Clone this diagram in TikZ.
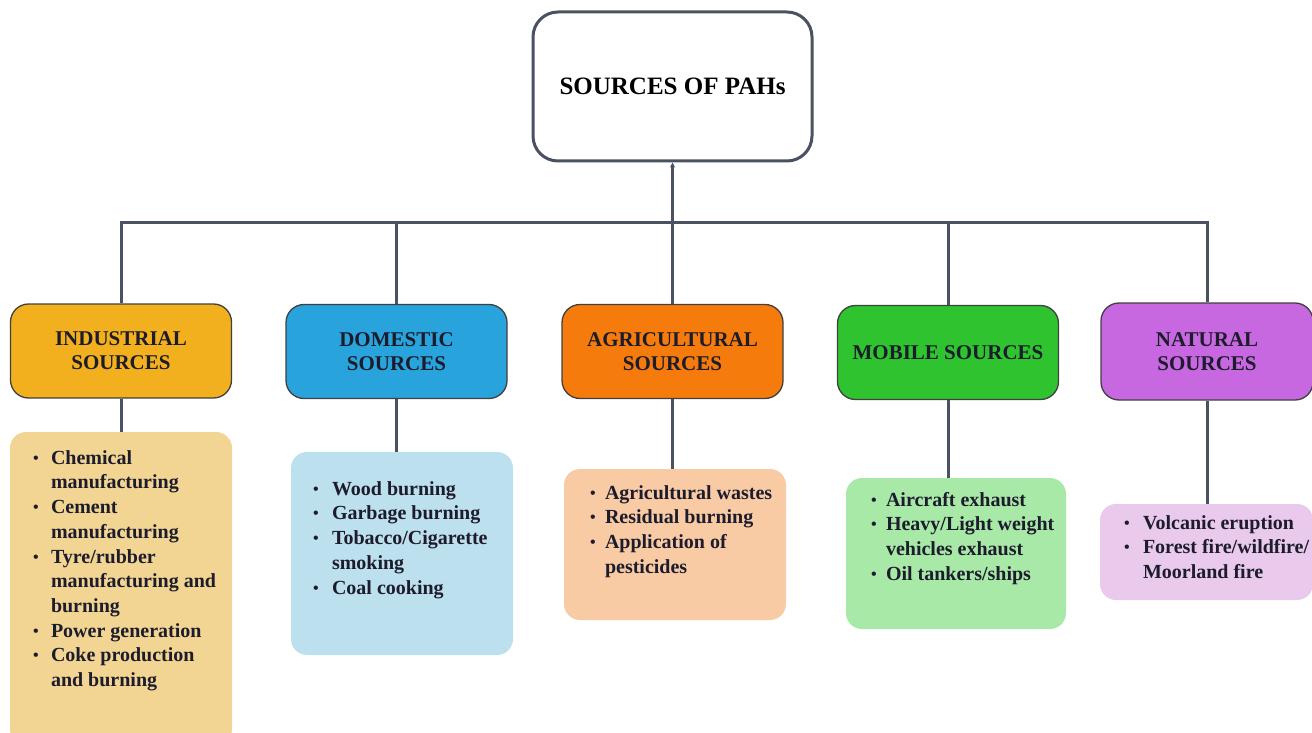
\documentclass[tikz,border=0pt]{standalone}
\usepackage{fontspec}
\setmainfont{Liberation Serif}[BoldFont={Liberation Serif Bold}]
\usepackage{tikz}
\usetikzlibrary{arrows.meta, positioning}
\definecolor{linegray}{HTML}{4A5160}
\definecolor{txtdark}{HTML}{1C1C2C}
\definecolor{indcol}{HTML}{F2B01E}
\definecolor{indlight}{HTML}{F3D593}
\definecolor{domcol}{HTML}{29A3DC}
\definecolor{domlight}{HTML}{BDE0EE}
\definecolor{agrcol}{HTML}{F57B0C}
\definecolor{agrlight}{HTML}{F9CBA5}
\definecolor{mobcol}{HTML}{2FC42F}
\definecolor{moblight}{HTML}{A8E9A8}
\definecolor{natcol}{HTML}{C868E0}
\definecolor{natlight}{HTML}{E9C9EC}

\newcommand{\bul}{\raisebox{1pt}{\fontsize{16}{16}\selectfont\textbullet}}

\begin{document}
\begin{tikzpicture}[x=1pt, y=-1pt,
    link/.style={draw=linegray, line width=3pt},
    rootbox/.style={draw=linegray, line width=3pt, fill=white, rounded corners=25pt,
        minimum width=279pt, minimum height=149pt, text=black,
        font=\fontsize{25}{29}\selectfont\bfseries},
    cat/.style={draw=black!75, line width=1.3pt, rounded corners=18pt,
        minimum width=221pt, minimum height=94pt, align=center, text=txtdark,
        font=\fontsize{21}{24}\selectfont\bfseries},
    lst/.style={rounded corners=16pt, minimum width=222pt, inner sep=0pt},
    lsttxt/.style={anchor=north west, inner sep=0pt, align=left, text=txtdark,
        font=\fontsize{20}{24.7}\selectfont\bfseries}
]
  \useasboundingbox (0,0) rectangle (1312,733);
  \clip (0,0) rectangle (1312,733);

  % Wurzel
  \node[rootbox] (root) at (672.5,86.5) {SOURCES OF PAHs};
  \coordinate (bus) at (672.5,222);

  % Kategorien
  \node[cat, fill=indcol] (ind) at (121,351) {INDUSTRIAL\\SOURCES};
  \node[cat, fill=domcol] (dom) at (396.5,351.5) {DOMESTIC\\SOURCES};
  \node[cat, fill=agrcol] (agr) at (672.5,351.5) {AGRICULTURAL\\SOURCES};
  \node[cat, fill=mobcol] (mob) at (948,352.5) {MOBILE SOURCES};
  \node[cat, fill=natcol, minimum width=212pt, minimum height=97pt] (nat) at (1207,351.5) {NATURAL\\SOURCES};

  % Listen
  \node[lst, fill=indlight, minimum height=313pt] (ind-list) at (121,588.5) {};
  \node[lst, fill=domlight, minimum height=203pt] (dom-list) at (402,553.5) {};
  \node[lst, fill=agrlight, minimum height=151pt] (agr-list) at (675,544.5) {};
  \node[lst, fill=moblight, minimum height=151pt, minimum width=220pt] (mob-list) at (956,553.5) {};
  \node[lst, fill=natlight, minimum height=96pt, minimum width=213pt] (nat-list) at (1206.5,552) {};

  \node[lsttxt] (ind-txt) at ([shift={(23,15)}]ind-list.north west) {%
    \begin{tabular}{@{}p{18pt}@{}l@{}}
      \bul & Chemical\\ & manufacturing\\
      \bul & Cement\\ & manufacturing\\
      \bul & Tyre/rubber\\ & manufacturing and\\ & burning\\
      \bul & Power generation\\
      \bul & Coke production\\ & and burning
    \end{tabular}};
  \node[lsttxt] (dom-txt) at ([shift={(22,26)}]dom-list.north west) {%
    \begin{tabular}{@{}p{19pt}@{}l@{}}
      \bul & Wood burning\\
      \bul & Garbage burning\\
      \bul & Tobacco/Cigarette\\ & smoking\\
      \bul & Coal cooking
    \end{tabular}};
  \node[lsttxt] (agr-txt) at ([shift={(26,13)}]agr-list.north west) {%
    \begin{tabular}{@{}p{15pt}@{}l@{}}
      \bul & Agricultural wastes\\
      \bul & Residual burning\\
      \bul & Application of\\ & pesticides
    \end{tabular}};
  \node[lsttxt] (mob-txt) at ([shift={(25,11)}]mob-list.north west) {%
    \begin{tabular}{@{}p{15pt}@{}l@{}}
      \bul & Aircraft exhaust\\
      \bul & Heavy/Light weight\\ & vehicles exhaust\\
      \bul & Oil tankers/ships
    \end{tabular}};
  \node[lsttxt] (nat-txt) at ([shift={(24,8)}]nat-list.north west) {%
    \begin{tabular}{@{}p{19pt}@{}l@{}}
      \bul & Volcanic eruption\\
      \bul & Forest fire/wildfire/\\ & Moorland fire
    \end{tabular}};

  % Verbindungen
  \draw[link, -{Stealth[length=5pt, width=5pt]}] (bus) -- (root);
  \foreach \c in {ind, dom, agr, mob, nat}
    \draw[link] (\c.north) |- (bus);
  \foreach \c in {ind, dom, agr, mob, nat}
    \draw[link] (\c.south) -- (\c.south |- \c-list.north);

\end{tikzpicture}
\end{document}
